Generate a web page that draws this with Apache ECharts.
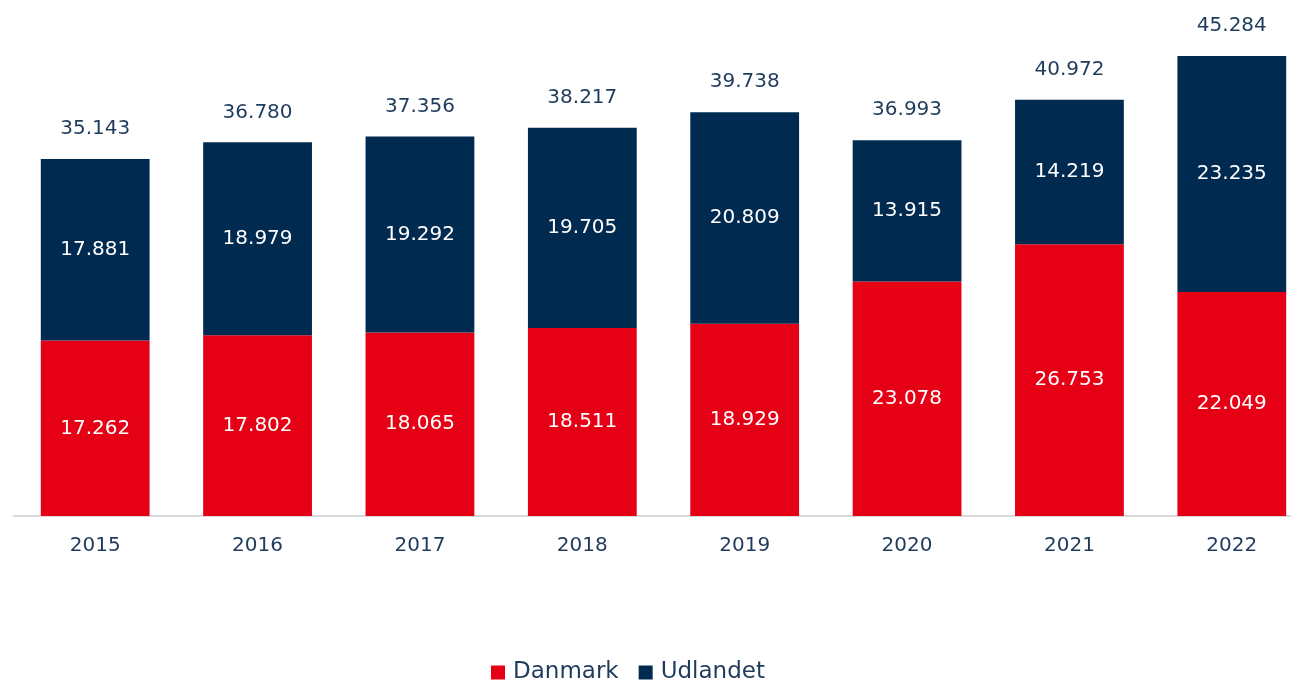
<!DOCTYPE html>
<html>
<head>
<meta charset="utf-8">
<script src="https://cdn.jsdelivr.net/npm/echarts@6/dist/echarts.min.js"></script>
<style>
  html, body { margin: 0; padding: 0; background: #fff; }
  #chart { width: 1291px; height: 681px; }
</style>
</head>
<body>
<div id="chart"></div>
<script>
// data
const years = ['2015', '2016', '2017', '2018', '2019', '2020', '2021', '2022'];
const danmark = [17262, 17802, 18065, 18511, 18929, 23078, 26753, 22049];
const udlandet = [17881, 18979, 19292, 19705, 20809, 13915, 14219, 23235];
const totals = [35143, 36780, 37356, 38217, 39738, 36993, 40972, 45284];

const RED = '#e60016';
const NAVY = '#002a4f';
const TEXT = '#1f3b5c';
const FONT = 'DejaVu Sans';

// danish thousand separator
const fmt = (v) => String(v).replace(/\B(?=(\d{3})+(?!\d))/g, '.');

const chart = echarts.init(document.getElementById('chart'));

chart.setOption({
    animation: false,
    textStyle: {fontFamily: FONT},
    // grid runs past the right edge, like the reference
    grid: {left: 14, width: 1299, top: 8, bottom: 165, containLabel: false, outerBoundsMode: 'none'},
    legend: {
        data: ['Danmark', 'Udlandet'],
        top: 656,
        left: 486,
        itemWidth: 14,
        itemHeight: 14,
        itemGap: 20,
        icon: 'rect',
        textStyle: {color: TEXT, fontSize: 23, fontFamily: FONT, padding: [0, 0, 0, 3]},
    },
    xAxis: {
        type: 'category',
        data: years,
        axisTick: {show: false},
        axisLine: {lineStyle: {color: '#d9d9d9', width: 2}},
        axisLabel: {color: TEXT, fontSize: 20, margin: 20, fontFamily: FONT},
    },
    yAxis: {
        type: 'value',
        min: 0,
        max: 50000,
        show: false,
        splitLine: {show: false},
    },
    series: [
        {
            name: 'Danmark',
            type: 'bar',
            stack: 'tot',
            barWidth: '67%',
            data: danmark,
            itemStyle: {color: RED},
            label: {
                show: true,
                position: 'inside',
                color: '#fff',
                fontSize: 20,
                fontFamily: FONT,
                formatter: (p) => fmt(p.value),
            },
        },
        {
            name: 'Udlandet',
            type: 'bar',
            stack: 'tot',
            data: udlandet,
            itemStyle: {color: NAVY},
            label: {
                show: true,
                position: 'inside',
                color: '#fff',
                fontSize: 20,
                fontFamily: FONT,
                formatter: (p) => fmt(p.value),
            },
        },
        {
            name: 'Total',
            type: 'bar',
            stack: 'tot',
            data: totals.map(() => 0),
            itemStyle: {color: 'transparent'},
            label: {
                show: true,
                position: 'top',
                distance: 20,
                color: TEXT,
                fontSize: 20,
                fontFamily: FONT,
                formatter: (p) => fmt(totals[p.dataIndex]),
            },
        },
    ],
});

window.addEventListener('resize', chart.resize);
</script>
</body>
</html>
